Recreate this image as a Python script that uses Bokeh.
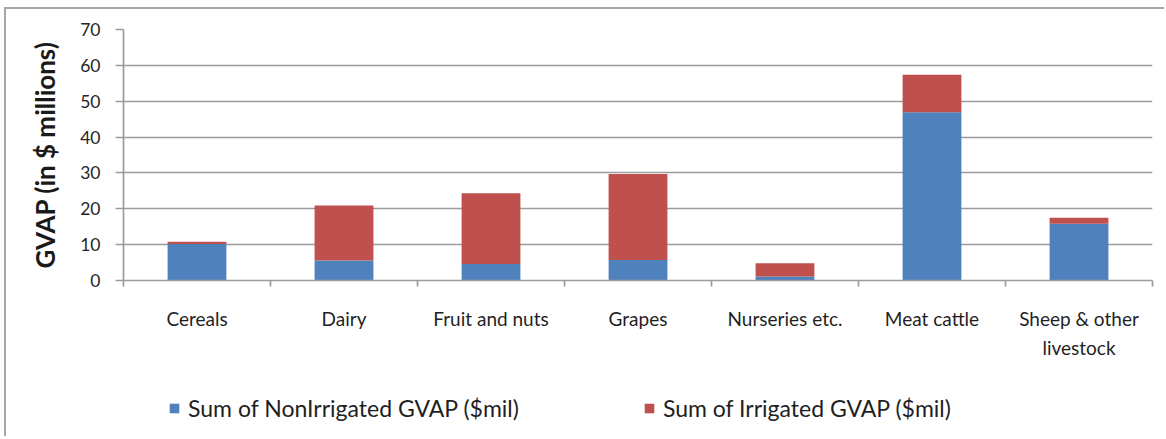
from bokeh.plotting import figure
from bokeh.layouts import column
from bokeh.models import Range1d, FixedTicker, Legend, LegendItem, ColumnDataSource
from bokeh.embed import file_html
from bokeh.resources import INLINE

categories = ["Cereals", "Dairy", "Fruit and nuts", "Grapes", "Nurseries etc.",
              "Meat cattle", "Sheep & other\nlivestock"]
non_irrigated = [10.2, 5.6, 4.6, 5.7, 1.1, 46.9, 15.8]
irrigated = [0.6, 15.3, 19.7, 24.0, 3.7, 10.5, 1.7]
y_ticks = [0, 10, 20, 30, 40, 50, 60, 70]
series_names = ["Sum of NonIrrigated GVAP ($mil)", "Sum of Irrigated GVAP ($mil)"]
y_label = "GVAP (in $ millions)"

BLUE = "#4F81BD"
RED = "#C0504D"
FONT = "Lato"
GRID = "#9c9c9c"

n = len(categories)
xs = [i + 0.5 for i in range(n)]
top_total = [a + b for a, b in zip(non_irrigated, irrigated)]
src = ColumnDataSource(dict(x=xs, nonirr=non_irrigated, total=top_total))

W = 1158
p = figure(width=W, height=371, output_backend="svg", toolbar_location=None,
           x_range=Range1d(0, n), y_range=Range1d(y_ticks[0], y_ticks[-1]),
           min_border_left=117, min_border_right=12, min_border_top=20, min_border_bottom=100)
p.outline_line_color = None
p.margin = 0

p.vbar(x="x", bottom=0, top="nonirr", width=0.4, source=src, fill_color=BLUE, line_color=None)
p.vbar(x="x", bottom="nonirr", top="total", width=0.4, source=src, fill_color=RED, line_color=None)

# y axis
p.yaxis.ticker = FixedTicker(ticks=y_ticks)
p.yaxis.axis_line_color = GRID
p.yaxis.axis_line_width = 1.7
p.yaxis.major_tick_line_color = GRID
p.yaxis.major_tick_line_width = 1.7
p.yaxis.major_tick_out = 8
p.yaxis.major_tick_in = 0
p.yaxis.minor_tick_line_color = None
p.yaxis.major_label_text_font = FONT
p.yaxis.major_label_text_font_size = "17.5px"
p.yaxis.major_label_text_color = "#262626"
p.yaxis.major_label_standoff = 15
p.yaxis.axis_label = y_label
p.yaxis.axis_label_text_font = FONT
p.yaxis.axis_label_text_font_style = "bold"
p.yaxis.axis_label_text_font_size = "26px"
p.yaxis.axis_label_text_color = "#1a1a1a"
p.yaxis.axis_label_standoff = 16

# x axis: labels at centers, ticks at boundaries
p.xaxis.ticker = FixedTicker(ticks=xs, minor_ticks=list(range(n + 1)))
p.xaxis.major_label_overrides = {x: c for x, c in zip(xs, categories)}
p.xaxis.major_tick_line_color = None
p.xaxis.major_tick_out = 0
p.xaxis.major_tick_in = 0
p.xaxis.minor_tick_line_color = GRID
p.xaxis.minor_tick_line_width = 1.7
p.xaxis.minor_tick_out = 6
p.xaxis.minor_tick_in = 0
p.xaxis.axis_line_color = GRID
p.xaxis.axis_line_width = 1.7
p.xaxis.major_label_text_font = FONT
p.xaxis.major_label_text_font_size = "19px"
p.xaxis.major_label_text_color = "#1f1f1f"
p.xaxis.major_label_text_line_height = 1.3
p.xaxis.major_label_standoff = 20

p.xgrid.grid_line_color = None
p.ygrid.grid_line_color = GRID
p.ygrid.grid_line_width = 1.7

# legend in a strip below the chart (frame aligned with the chart's frame)
lg = figure(width=W, height=56, output_backend="svg", toolbar_location=None,
            x_range=Range1d(0, 1), y_range=Range1d(0, 1),
            min_border_left=0, min_border_right=0, min_border_top=0, min_border_bottom=0)
lg.axis.visible = False
lg.grid.grid_line_color = None
lg.outline_line_color = None
lg.margin = 0
dummy = ColumnDataSource(dict(x=[0], top=[0]))  # zero-height bars, only for legend swatches
lr1 = lg.vbar(x="x", top="top", bottom=0, width=0.01, source=dummy, fill_color=BLUE, line_color=None)
lr2 = lg.vbar(x="x", top="top", bottom=0, width=0.01, source=dummy, fill_color=RED, line_color=None)
legend = Legend(items=[LegendItem(label=series_names[0], renderers=[lr1]),
                       LegendItem(label=series_names[1], renderers=[lr2])],
                orientation="horizontal", location=(45, 14),
                glyph_width=12, glyph_height=12, label_standoff=8, spacing=124,
                padding=0, margin=0, border_line_color=None, background_fill_alpha=0,
                label_text_font=FONT, label_text_font_size="23px", label_text_color="#1f1f1f")
lg.add_layout(legend)

layout = column(p, lg, margin=(7, 0, 0, 4), spacing=0,
                styles={"border-left": "2px solid #a6a6a6", "border-top": "2px solid #a6a6a6"})

open("out.html", "w").write(file_html(layout, INLINE))
